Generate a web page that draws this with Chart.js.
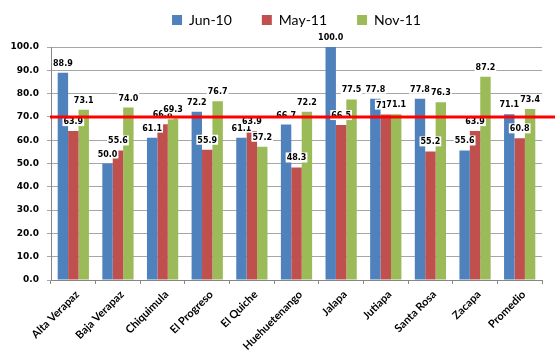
<!DOCTYPE html>
<html>
<head>
<meta charset="utf-8">
<script src="https://cdn.jsdelivr.net/npm/chart.js@4"></script>
<style>
  html, body { margin: 0; padding: 0; background: #fff; }
  #wrap { width: 560px; height: 353px; }
</style>
</head>
<body>
<div id="wrap"><canvas id="chart" width="560" height="353"></canvas></div>
<script>
const departamentos = ['Alta Verapaz', 'Baja Verapaz', 'Chiquimula', 'El Progreso', 'El Quiche',
    'Huehuetenango', 'Jalapa', 'Jutiapa', 'Santa Rosa', 'Zacapa', 'Promedio'];
const jun10 = [88.9, 50.0, 61.1, 72.2, 61.1, 66.7, 100.0, 77.8, 77.8, 55.6, 71.1];
const may11 = [63.9, 55.6, 66.8, 55.9, 63.9, 48.3, 66.5, 71.0, 55.2, 63.9, 60.8];
const nov11 = [73.1, 74.0, 69.3, 76.7, 57.2, 72.2, 77.5, 71.1, 76.3, 87.2, 73.4];
const meta = 70;

// legend box taller so the plot starts lower, and centred over the plot
const legendBox = {
    id: 'legendBox',
    beforeInit(chart) {
        const fit = chart.legend.fit;
        chart.legend.fit = function() {
            fit.bind(chart.legend)();
            this.height = 64;
        };
    },
    afterLayout(chart) {
        chart.legend.left = 51;
    }
};

// value labels above each bar + red target line
const valueLabels = {
    id: 'valueLabels',
    afterDatasetsDraw(chart) {
        const ctx = chart.ctx;
        ctx.save();
        ctx.font = 'bold 8px "DejaVu Sans"';
        ctx.textAlign = 'center';
        ctx.textBaseline = 'alphabetic';
        chart.data.datasets.forEach((ds, i) => {
            chart.getDatasetMeta(i).data.forEach((bar, j) => {
                const txt = ds.data[j].toFixed(1);
                const w = ctx.measureText(txt).width;
                const y = bar.y - 7;
                ctx.fillStyle = '#ffffff';
                ctx.fillRect(bar.x - w / 2 - 1, y - 8, w + 2, 10);
                ctx.fillStyle = '#000000';
                ctx.fillText(txt, bar.x, y);
            });
        });

        const yPos = chart.scales.y.getPixelForValue(meta);
        ctx.strokeStyle = '#ff0000';
        ctx.lineWidth = 3;
        ctx.beginPath();
        ctx.moveTo(chart.chartArea.left - 1, yPos);
        ctx.lineTo(chart.chartArea.right + 13, yPos);
        ctx.stroke();
        ctx.restore();
    }
};

const ctx = document.getElementById('chart').getContext('2d');
new Chart(ctx, {
    type: 'bar',
    data: {
        labels: departamentos,
        datasets: [
            { label: 'Jun-10', data: jun10, backgroundColor: '#4F81BD' },
            { label: 'May-11', data: may11, backgroundColor: '#C0504D' },
            { label: 'Nov-11', data: nov11, backgroundColor: '#9BBB59' }
        ]
    },
    options: {
        responsive: false,
        animation: false,
        devicePixelRatio: 1,
        categoryPercentage: 0.7,
        barPercentage: 1.0,
        layout: {
            padding: { top: -17, left: 0, right: 18, bottom: 0 }
        },
        plugins: {
            legend: {
                display: true,
                position: 'top',
                labels: {
                    boxWidth: 10,
                    boxHeight: 10,
                    padding: 30,
                    color: '#000',
                    font: { family: 'Lato', size: 14 }
                }
            },
            tooltip: { enabled: false }
        },
        scales: {
            x: {
                afterFit: (scale) => { scale.height = 73; },
                grid: {
                    offset: true,
                    drawOnChartArea: false,
                    drawTicks: true,
                    tickLength: 4,
                    color: '#868686'
                },
                border: { color: '#868686' },
                ticks: {
                    minRotation: 45,
                    maxRotation: 45,
                    autoSkip: false,
                    padding: 4,
                    labelOffset: 4,
                    color: '#000',
                    font: { family: 'Lato', size: 11, weight: 'bold' }
                }
            },
            y: {
                min: 0,
                max: 100,
                afterFit: (scale) => { scale.width = 51; },
                grid: {
                    color: '#a6a6a6',
                    tickLength: 4
                },
                border: { color: '#868686' },
                ticks: {
                    stepSize: 10,
                    padding: 8,
                    color: '#000',
                    font: { family: 'DejaVu Sans', size: 9, weight: 'bold' },
                    callback: (v) => v.toFixed(1)
                }
            }
        }
    },
    plugins: [legendBox, valueLabels]
});
</script>
</body>
</html>
